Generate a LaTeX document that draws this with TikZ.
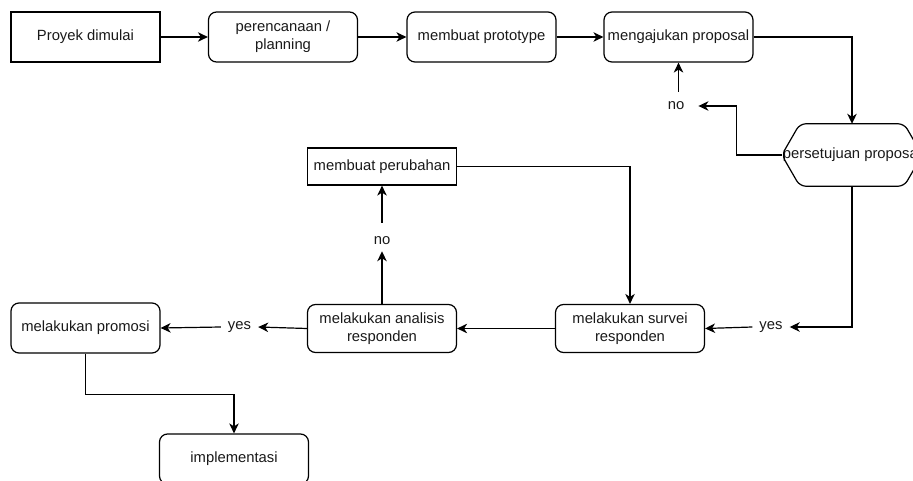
\documentclass[tikz,border=0pt]{standalone}
\usepackage{fontspec}
\setmainfont{Liberation Sans}
\usetikzlibrary{arrows.meta}
\begin{document}
\begin{tikzpicture}[x=1pt,y=-1pt,
  every node/.style={font=\fontsize{14.8}{18}\selectfont, text=black!90},
  sqbox/.style={draw, line width=1.2pt, minimum width=149pt, minimum height=50pt, align=center, inner sep=0pt},
  rbox/.style={sqbox, rounded corners=8pt},
  lbl/.style={inner xsep=7pt, inner ysep=4pt},
  arr/.style={draw, line width=1.2pt, -{Stealth[length=10pt,width=9.5pt,inset=3pt]}},
  ln/.style={draw, line width=1.2pt}
]
\useasboundingbox (0,0) rectangle (913,481);
\clip (0,0) rectangle (913,481);
% top row
\node[sqbox] (start) at (85.5,37) {Proyek dimulai};
\node[rbox] (plan) at (283,37) {perencanaan /\\planning};
\node[rbox] (proto) at (481.5,37) {membuat prototype};
\node[rbox] (ajukan) at (678.5,37) {mengajukan proposal};
% decision
\node[minimum width=140pt, minimum height=62pt, inner sep=0pt] (pers) at (852,155) {persetujuan proposal};
\draw[line width=1.2pt, rounded corners=6pt] (pers.north) -- ([xshift=-18pt]pers.north east) -- (pers.east) -- ([xshift=-18pt]pers.south east) -- ([xshift=18pt]pers.south west) -- (pers.west) -- ([xshift=18pt]pers.north west) -- cycle;
% labels
\node[lbl, inner xsep=14pt, inner ysep=10pt] (no1) at (676,106) {no};
\node[lbl, inner ysep=10pt] (no2) at (382,241) {no};
\node[lbl] (yes2) at (771,327) {yes};
\node[lbl] (yes1) at (239.5,327) {yes};
% middle / bottom
\node[sqbox, minimum height=37pt] (ubah) at (382,166.5) {membuat perubahan};
\node[rbox, minimum height=48pt] (survei) at (630,328.5) {melakukan survei\\responden};
\node[rbox, minimum height=48pt] (analisis) at (382,328.5) {melakukan analisis\\responden};
\node[rbox] (promosi) at (85.5,328) {melakukan promosi};
\node[rbox] (impl) at (234,459) {implementasi};
% connectors
\draw[arr] (start) -- (plan);
\draw[arr] (plan) -- (proto);
\draw[arr] (proto) -- (ajukan);
\draw[arr] (ajukan.east) -| (pers.north);
\draw[arr] (pers.west) -- ++(-45,0) |- (no1.east);
\draw[arr] (no1.north -| ajukan.south) -- (ajukan.south);
\draw[arr] (pers.south) |- (yes2.east);
\draw[arr] (yes2.west) -- (survei.east);
\draw[arr] (survei.west) -- (analisis.east);
\draw[arr] (analisis.west) -- (yes1.east);
\draw[arr] (yes1.west) -- (promosi.east);
\draw[arr] (analisis.north) -- ([yshift=4pt]no2.south);
\draw[arr] ([yshift=4pt]no2.north) -- (ubah.south);
\draw[arr] (ubah.east) -| (survei.north);
\draw[arr] (promosi.south) -- ++(0,41) -| (impl.north);
\end{tikzpicture}
\end{document}
